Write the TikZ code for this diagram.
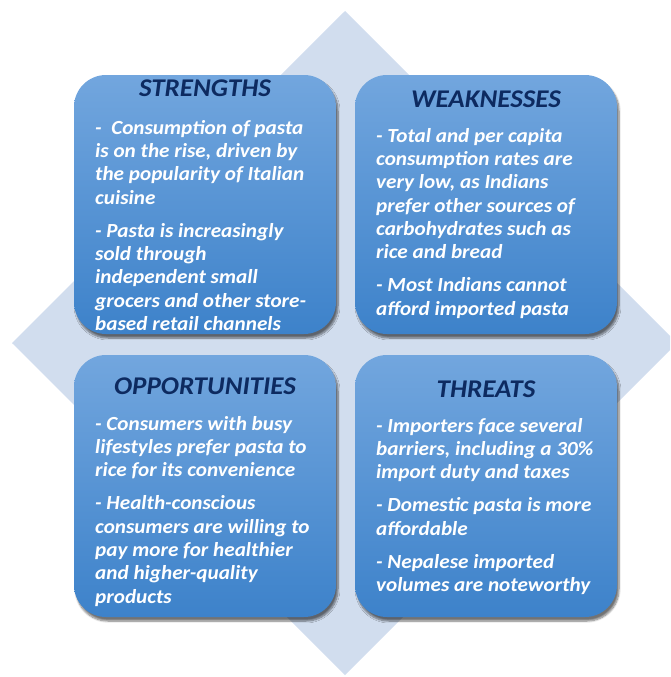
\documentclass[tikz,border=0pt]{standalone}
\usepackage{fontspec}
\setmainfont{Carlito}[ItalicFont=* Italic, BoldFont=* Bold, BoldItalicFont=* Bold Italic, FakeStretch=1.06]
\usetikzlibrary{shadows.blur}
\definecolor{diamondblue}{HTML}{D1DDEE}
\definecolor{boxtop}{HTML}{72A6DE}
\definecolor{boxbottom}{HTML}{3D82CA}
\definecolor{titlenavy}{HTML}{0D2A60}
\tikzset{
  swotbox/.style={rounded corners=32pt, top color=boxtop, bottom color=boxbottom,
    minimum width=262pt, inner sep=0pt,
    blur shadow={shadow xshift=2pt, shadow yshift=-4pt, shadow blur steps=8, shadow opacity=55}},
  swottitle/.style={font=\fontsize{25.5}{30}\selectfont\bfseries\itshape, text=titlenavy, anchor=base, inner sep=0pt},
  swottext/.style={font=\fontsize{20}{23.3}\selectfont\bfseries\itshape, text=white, align=left, anchor=north west, inner sep=0pt}
}
% first line strut, so the node top sits 16pt above the first baseline
\newcommand{\firstline}{\rule{0pt}{16pt}}
\newcommand{\paragap}{\\[9.7pt]}

\begin{document}
\begin{tikzpicture}[x=1pt,y=-1pt]
  \useasboundingbox (0,0) rectangle (670,677);
  \clip (0,0) rectangle (670,677);
  % background diamond
  \fill[diamondblue] (345,11) -- (677,343) -- (345,675) -- (12,343) -- cycle;
  % the four boxes
  \node[swotbox, minimum height=259pt] (str) at (205,204.5) {};
  \node[swotbox, minimum height=259pt] (wea) at (486,204.5) {};
  \node[swotbox, minimum height=262pt] (opp) at (205,486) {};
  \node[swotbox, minimum height=262pt] (thr) at (486,486) {};
  % titles
  \node[swottitle] (strtitle) at (205,96) {STRENGTHS};
  \node[swottitle] (weatitle) at (486,107) {WEAKNESSES};
  \node[swottitle] (opptitle) at (205,394) {OPPORTUNITIES};
  \node[swottitle] (thrtitle) at (486,397) {THREATS};
  % bullet texts (y = first baseline - 16)
  \node[swottext] (strtext) at (95,118) {\firstline-\ \ Consumption of pasta\\ is on the rise, driven by\\ the popularity of Italian\\ cuisine\paragap
    - Pasta is increasingly\\ sold through\\ independent small\\ grocers and other store-\\ based retail channels};
  \node[swottext] (weatext) at (376,126) {\firstline- Total and per capita\\ consumption rates are\\ very low, as Indians\\ prefer other sources of\\ carbohydrates such as\\ rice and bread\paragap
    - Most Indians cannot\\ afford imported pasta};
  \node[swottext] (opptext) at (95,414) {\firstline- Consumers with busy\\ lifestyles prefer pasta to\\ rice for its convenience\paragap
    - Health-conscious\\ consumers are willing to\\ pay more for healthier\\ and higher-quality\\ products};
  \node[swottext] (thrtext) at (376,416) {\firstline- Importers face several\\ barriers, including a 30\%\\ import duty and taxes\paragap
    - Domestic pasta is more\\ affordable\paragap
    - Nepalese imported\\ volumes are noteworthy};
\end{tikzpicture}
\end{document}
